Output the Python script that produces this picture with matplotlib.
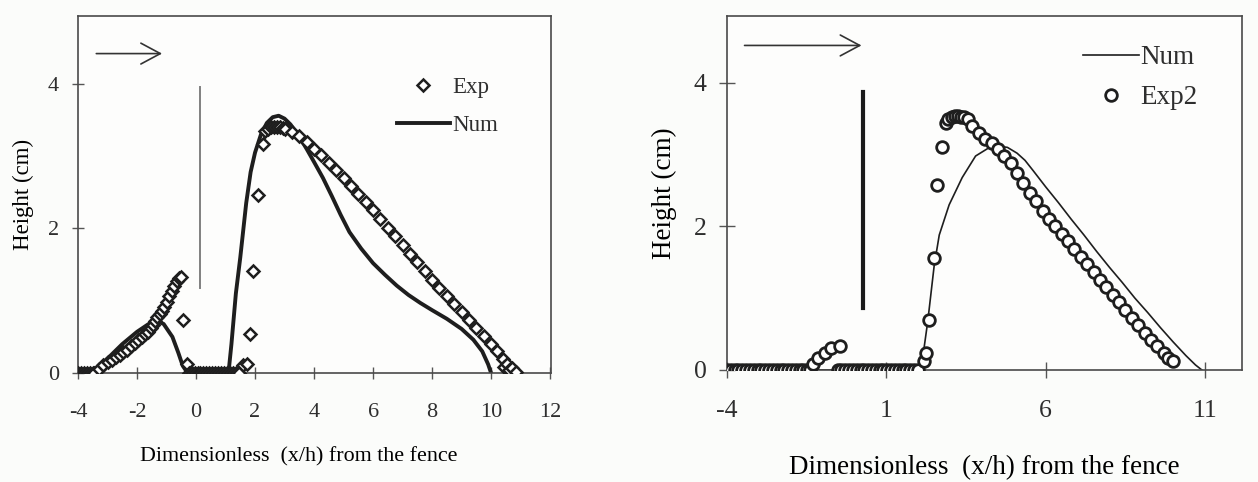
import matplotlib
matplotlib.use("Agg")
import matplotlib.pyplot as plt
from matplotlib.lines import Line2D

plt.rcParams['font.family'] = ['Liberation Serif', 'DejaVu Serif']
plt.rcParams['axes.unicode_minus'] = False
INK = '#2e2e2e'
plt.rcParams['text.color'] = INK

# ---------------- Left panel data ----------------
# Experimental snow-drift profile (diamonds)
exp_x = [-4.0, -3.9, -3.8, -3.7, -3.6, -3.5,
         -3.45, -3.3, -3.14, -3.0, -2.86, -2.72, -2.58, -2.46, -2.35, -2.2,
         -2.07, -1.95, -1.84, -1.72, -1.62, -1.52, -1.45, -1.38, -1.31, -1.23,
         -1.16, -1.08, -0.99, -0.9, -0.82, -0.74, -0.66, -0.58, -0.52,
         -0.43, -0.32,
         -0.25, -0.15, -0.05, 0.05, 0.15, 0.25, 0.35, 0.45, 0.55, 0.65, 0.75,
         0.85, 0.95, 1.05, 1.15, 1.25, 1.35, 1.45,
         1.6, 1.72, 1.83, 1.94, 2.11, 2.28,
         2.35, 2.45, 2.55, 2.65, 2.75, 2.85, 2.95,
         3.0, 3.25, 3.5, 3.75, 4.0, 4.25, 4.5, 4.75, 5.0, 5.25, 5.5, 5.75,
         6.0, 6.25, 6.5, 6.75, 7.0, 7.25, 7.5, 7.75, 8.0, 8.25, 8.5, 8.75,
         9.0, 9.25, 9.5, 9.75, 10.0, 10.2, 10.4, 10.45, 10.55, 10.6, 10.7, 10.85]
exp_y = [0.0, 0.0, 0.0, 0.0, 0.0, 0.0,
         0.0, 0.06, 0.11, 0.15, 0.18, 0.22, 0.25, 0.29, 0.32, 0.37,
         0.41, 0.46, 0.50, 0.54, 0.57, 0.62, 0.66, 0.72, 0.77, 0.81,
         0.86, 0.92, 0.98, 1.06, 1.14, 1.21, 1.27, 1.31, 1.33,
         0.74, 0.13,
         0.0, 0.0, 0.0, 0.0, 0.0, 0.0, 0.0, 0.0, 0.0, 0.0, 0.0,
         0.0, 0.0, 0.0, 0.0, 0.0, 0.0, 0.0,
         0.11, 0.13, 0.54, 1.41, 2.46, 3.17,
         3.35, 3.38, 3.40, 3.40, 3.40, 3.40, 3.39,
         3.37, 3.33, 3.28, 3.19, 3.10, 3.01, 2.91, 2.81, 2.70, 2.59, 2.48, 2.36,
         2.25, 2.13, 2.01, 1.89, 1.77, 1.65, 1.53, 1.41, 1.29, 1.18, 1.06, 0.95,
         0.84, 0.73, 0.62, 0.51, 0.40, 0.30, 0.20, 0.08, 0.13, 0.04, 0.07, 0.02]

# Numerical prediction (thick line)
num_x = [-4.0, -3.6, -3.4, -3.0, -2.5, -2.0, -1.6, -1.35, -1.1, -0.8, -0.6,
         -0.45, -0.3, -0.2, 1.1, 1.2, 1.35, 1.5, 1.7, 1.85, 2.0, 2.2, 2.4,
         2.6, 2.8, 3.0, 3.2, 3.5, 3.75, 4.0, 4.3, 4.6, 4.9, 5.2, 5.6, 6.0,
         6.4, 6.8, 7.2, 7.6, 8.0, 8.5, 9.0, 9.4, 9.7, 9.9, 10.0]
num_y = [0.0, 0.0, 0.05, 0.2, 0.4, 0.57, 0.68, 0.72, 0.68, 0.5, 0.28,
         0.1, 0.01, 0.0, 0.0, 0.4, 1.1, 1.6, 2.35, 2.78, 3.05, 3.3, 3.46,
         3.54, 3.56, 3.52, 3.44, 3.27, 3.10, 2.92, 2.70, 2.45, 2.19, 1.95,
         1.72, 1.52, 1.36, 1.21, 1.08, 0.97, 0.87, 0.75, 0.61, 0.46, 0.30,
         0.12, 0.0]

left_xticks = [-4, -2, 0, 2, 4, 6, 8, 10, 12]
left_yticks = [0, 2, 4]

# ---------------- Right panel data ----------------
exp2_x = [-4.0, -3.88, -3.76, -3.64, -3.52, -3.4, -3.28, -3.16, -3.04, -2.92,
          -2.8, -2.68, -2.56, -2.44, -2.32, -2.2, -2.08, -1.96, -1.84, -1.72,
          -1.6, -1.48, -1.4,
          -1.3, -1.15, -0.94, -0.73, -0.47,
          -0.53, -0.41, -0.29, -0.17, -0.05, 0.07, 0.19, 0.31, 0.43, 0.55,
          0.67, 0.79, 0.91, 1.03, 1.15, 1.27, 1.39, 1.51, 1.63, 1.75, 1.87,
          2.0,
          2.19, 2.24, 2.34, 2.5, 2.6, 2.76, 2.87,
          2.95, 3.05, 3.15, 3.25, 3.35, 3.45, 3.55,
          3.7, 3.9, 4.1, 4.3, 4.5, 4.7, 4.9, 5.1, 5.3, 5.5, 5.7, 5.9, 6.1,
          6.3, 6.5, 6.7, 6.9, 7.1, 7.3, 7.5, 7.7, 7.9, 8.1, 8.3, 8.5, 8.7,
          8.9, 9.1, 9.3, 9.5, 9.7, 9.85, 10.0]
exp2_y = [0.0] * 23 + \
         [0.09, 0.16, 0.23, 0.30, 0.33] + \
         [0.0] * 22 + \
         [0.12, 0.23, 0.70, 1.56, 2.58, 3.11, 3.44,
          3.50, 3.53, 3.54, 3.54, 3.53, 3.52, 3.49,
          3.40, 3.30, 3.22, 3.16, 3.08, 2.98, 2.88, 2.75, 2.60, 2.46, 2.35,
          2.22, 2.10, 2.00, 1.90, 1.79, 1.68, 1.58, 1.47, 1.37, 1.26, 1.15,
          1.05, 0.94, 0.83, 0.72, 0.62, 0.51, 0.42, 0.33, 0.24, 0.17, 0.12]

num2_x = [-4.0, 2.05, 2.15, 2.3, 2.5, 2.66, 2.97, 3.38, 3.8, 4.2, 4.5, 4.8,
          5.1, 5.35, 5.6, 6.0, 6.4, 6.8, 7.2, 7.6, 8.0, 8.4, 8.8, 9.2, 9.6,
          10.0, 10.4, 10.7, 10.9]
num2_y = [0.0, 0.0, 0.2, 0.68, 1.45, 1.88, 2.3, 2.68, 2.98, 3.09, 3.12, 3.10,
          3.02, 2.92, 2.78, 2.55, 2.33, 2.10, 1.88, 1.65, 1.43, 1.22, 1.0,
          0.8, 0.59, 0.39, 0.2, 0.07, 0.0]

right_xticks = [-4, 1, 6, 11]
right_yticks = [0, 2, 4]

# ---------------- Figure ----------------
fig = plt.figure(figsize=(12.58, 4.82), dpi=100, facecolor='#fbfcfa')
axL = fig.add_axes([0.0620, 0.2261, 0.3760, 0.7407])
axR = fig.add_axes([0.5779, 0.2324, 0.4094, 0.7344])

for ax in (axL, axR):
    ax.set_facecolor('#fdfdfc')
    for s in ax.spines.values():
        s.set_color('#4a4a4a')
        s.set_linewidth(1.2)

ARROW = '->,head_length=1.4,head_width=0.75'
ARROW_PROPS = dict(arrowstyle=ARROW, color='#333333', lw=1.2,
                   shrinkA=0, shrinkB=0)

# Left panel
axL.plot(num_x, num_y, color='#1e1e1e', lw=2.8, zorder=2)
axL.plot(exp_x, exp_y, ls='none', marker='D', ms=6.4, mfc='white',
         mec='#1e1e1e', mew=1.8, zorder=3)
axL.plot([0.15, 0.15], [1.18, 3.96], color='#808080', lw=1.4, zorder=1)
axL.annotate('', xy=(-1.15, 4.42), xytext=(-3.38, 4.42),
             arrowprops=ARROW_PROPS)
axL.set_xlim(-4, 12.03)
axL.set_ylim(0, 4.94)
axL.set_xticks(left_xticks)
axL.set_yticks(left_yticks)
axL.tick_params(direction='inout', length=9, width=1.0, color='#555555',
                labelsize=16, labelcolor=INK)
axL.tick_params(axis='x', pad=17)
axL.tick_params(axis='y', pad=9)
axL.set_xlabel('Dimensionless  (x/h) from the fence', fontsize=15.8,
               labelpad=18, x=0.467)
axL.set_ylabel('Height (cm)', fontsize=16.5, labelpad=10)
hL = [Line2D([], [], ls='none', marker='D', ms=6.4, mfc='white',
             mec='#1e1e1e', mew=1.8),
      Line2D([], [], color='#1e1e1e', lw=2.8)]
axL.legend(hL, ['Exp', 'Num'], loc='upper left', bbox_to_anchor=(0.65, 0.86),
           frameon=False, fontsize=16.5, handlelength=2.3, handletextpad=0.12,
           borderpad=0, labelspacing=0.7)

# Right panel
axR.plot(num2_x, num2_y, color='#1e1e1e', lw=1.2, zorder=2)
axR.plot(exp2_x, exp2_y, ls='none', marker='o', ms=8.4, mfc='white',
         mec='#1e1e1e', mew=2.0, zorder=3)
axR.plot([0.28, 0.28], [0.86, 3.87], color='#1a1a1a', lw=3.0, zorder=1)
axR.annotate('', xy=(0.22, 4.52), xytext=(-3.45, 4.52),
             arrowprops=ARROW_PROPS)
axR.set_xlim(-4, 12.16)
axR.set_ylim(0, 4.93)
axR.set_xticks(right_xticks)
axR.set_yticks(right_yticks)
axR.tick_params(direction='inout', length=11, width=1.0, color='#555555',
                labelsize=18.5, labelcolor=INK)
axR.tick_params(axis='x', pad=16)
axR.tick_params(axis='y', pad=9)
axR.set_xlabel('Dimensionless  (x/h) from the fence', fontsize=19.5, labelpad=24)
axR.set_ylabel('Height (cm)', fontsize=19.5, labelpad=12)
hR = [Line2D([], [], color='#1e1e1e', lw=1.2),
      Line2D([], [], ls='none', marker='o', ms=8.4, mfc='white',
             mec='#1e1e1e', mew=2.0)]
axR.legend(hR, ['Num', 'Exp2'], loc='upper left', bbox_to_anchor=(0.664, 0.955),
           frameon=False, fontsize=19.5, handlelength=2.1, handletextpad=0.05,
           borderpad=0, labelspacing=0.55)

fig.savefig('out.png', dpi=100, facecolor=fig.get_facecolor())
